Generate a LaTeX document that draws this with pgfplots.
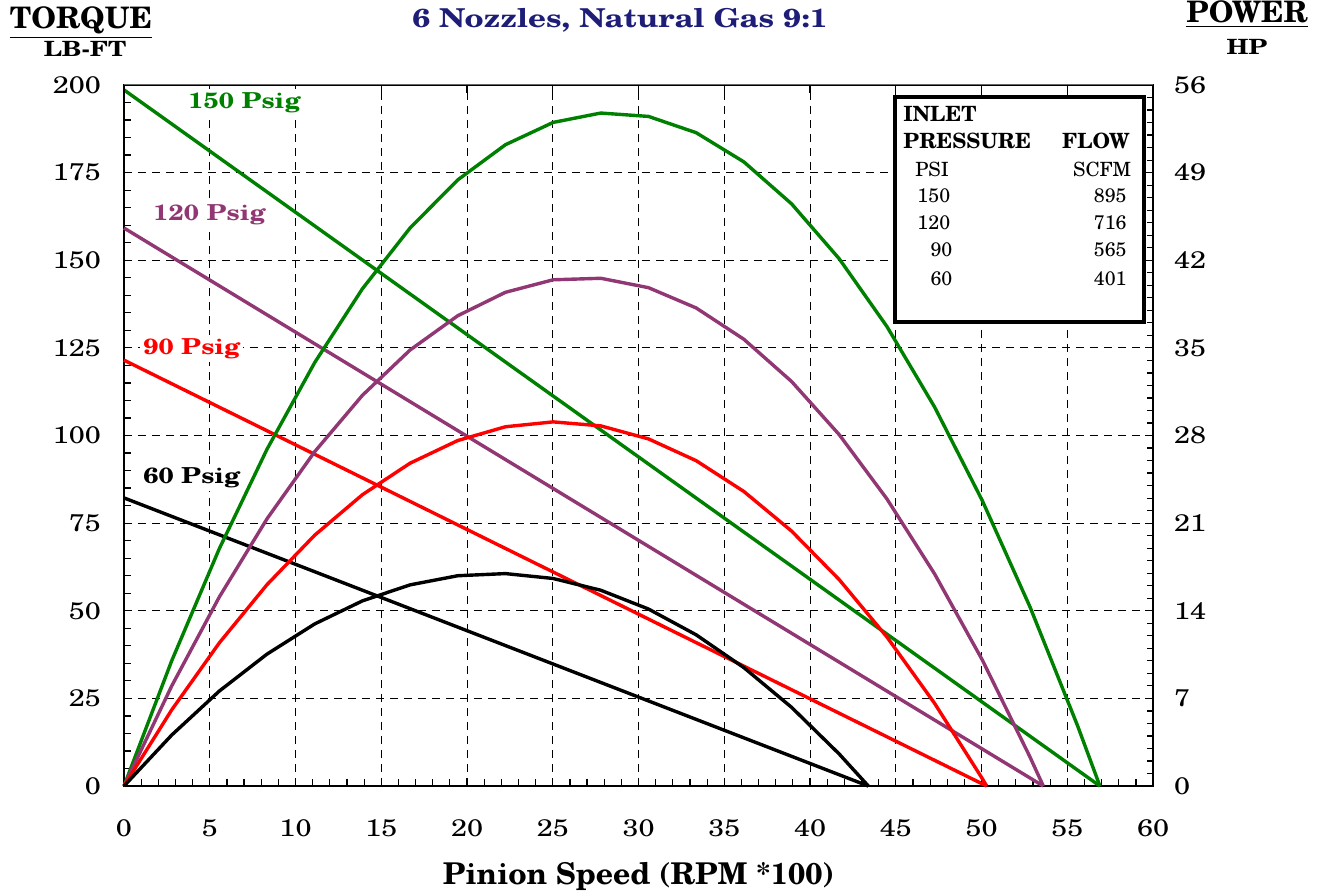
\documentclass[border=0pt]{standalone}
\usepackage{fontspec}
\setmainfont{texgyreschola}[Extension=.otf, UprightFont=*-regular, BoldFont=*-bold, ItalicFont=*-italic, BoldItalicFont=*-bolditalic]
\newfontfamily\wide{texgyreschola}[Extension=.otf, UprightFont=*-regular, BoldFont=*-bold, ItalicFont=*-italic, BoldItalicFont=*-bolditalic, FakeStretch=1.2]
\usepackage{pgfplots}
\pgfplotsset{compat=1.18}
\definecolor{cgreen}{RGB}{0,128,0}
\definecolor{cpurple}{RGB}{145,55,115}
\definecolor{cred}{RGB}{255,0,0}
\definecolor{navy}{RGB}{30,30,120}
\pgfplotstableread{
x p150
0 0
2.78 10.00
5.56 18.97
8.34 26.91
11.12 33.83
13.9 39.72
16.68 44.58
19.46 48.42
22.24 51.23
25.02 53.01
27.8 53.76
30.58 53.49
33.36 52.19
36.14 49.86
38.92 46.51
41.7 42.12
44.48 36.71
47.26 30.28
50.04 22.81
52.82 14.32
55.6 4.81
56.9 0
}\pfifty
\pgfplotstableread{
x p120
0 0
2.78 7.99
5.56 15.11
8.34 21.35
11.12 26.71
13.9 31.21
16.68 34.83
19.46 37.57
22.24 39.44
25.02 40.44
27.8 40.56
30.58 39.81
33.36 38.19
36.14 35.69
38.92 32.32
41.7 28.07
44.48 22.94
47.26 16.95
50.04 10.08
52.82 2.33
53.6 0
}\ptwenty
\pgfplotstableread{
x p90
0 0
2.78 6.08
5.56 11.44
8.34 16.09
11.12 20.04
13.9 23.27
16.68 25.79
19.46 27.60
22.24 28.70
25.02 29.09
27.8 28.77
30.58 27.73
33.36 25.99
36.14 23.53
38.92 20.37
41.7 16.49
44.48 11.91
47.26 6.61
50.04 0.60
50.3 0
}\pninety
\pgfplotstableread{
x p60
0 0
2.78 4.07
5.56 7.59
8.34 10.54
11.12 12.95
13.9 14.79
16.68 16.07
19.46 16.80
22.24 16.97
25.02 16.58
27.8 15.64
30.58 14.14
33.36 12.08
36.14 9.46
38.92 6.29
41.7 2.56
43.4 0
}\psixty
\begin{document}
\begin{tikzpicture}
\begin{axis}[name=main, scale only axis, width=514.5pt, height=350.5pt,
  xmin=0, xmax=60, ymin=0, ymax=200,
  xtick={0,5,...,60}, ytick={0,25,...,200},
  minor x tick num=4, minor y tick num=4,
  xtick pos=bottom, ytick pos=left, tick align=inside,
  major tick length=4pt, minor tick length=3.5pt,
  grid=major, major grid style={black, dash pattern=on 4pt off 3pt, line width=0.5pt},
  axis line style={line width=0.9pt, black},
  every tick/.style={black, line width=0.6pt},
  tick label style={font=\wide\fontsize{12}{14}\selectfont, /pgf/number format/assume math mode=true},
  xticklabel style={yshift=-13pt},
  yticklabel style={xshift=-8pt},
  xlabel={\bfseries Pinion Speed (RPM *100)},
  xlabel style={at={(axis description cs:0.5,0)}, anchor=center, yshift=-45pt, font=\fontsize{15}{17}\selectfont},
  clip=false]
\addplot[cgreen, line width=1.7pt] coordinates {(0,198.6) (56.9,0)};
\addplot[cpurple, line width=1.7pt] coordinates {(0,159.2) (53.6,0)};
\addplot[cred, line width=1.7pt] coordinates {(0,121.5) (50.3,0)};
\addplot[black, line width=1.7pt] coordinates {(0,82.2) (43.4,0)};
\coordinate (bbll) at (axis cs:-7.23,-30.81);
\coordinate (bbur) at (axis cs:69.85,224.25);
\end{axis}
\begin{axis}[scale only axis, width=514.5pt, height=350.5pt,
  xmin=0, xmax=60, ymin=0, ymax=56,
  axis x line*=top, axis y line*=right,
  xtick={0,5,...,60}, xticklabels={},
  ytick={0,7,...,56}, minor y tick num=6, tick align=inside,
  major tick length=4pt, minor tick length=3pt,
  axis line style={line width=0.9pt, black},
  x axis line style={line width=0.5pt, black!60},
  every tick/.style={black, line width=0.6pt},
  tick label style={font=\wide\fontsize{12}{14}\selectfont, /pgf/number format/assume math mode=true},
  yticklabel style={anchor=west, xshift=7pt},
  clip=false]
\addplot[cgreen, line width=1.7pt] table[x=x, y=p150] {\pfifty};
\addplot[cpurple, line width=1.7pt] table[x=x, y=p120] {\ptwenty};
\addplot[cred, line width=1.7pt] table[x=x, y=p90] {\pninety};
\addplot[black, line width=1.7pt] table[x=x, y=p60] {\psixty};
% series labels (torque scale Y * 0.28)
\node[anchor=base west, fill=white, inner sep=1.5pt, text=cgreen, font=\wide\fontsize{11}{12}\selectfont\bfseries] at (axis cs:3.56,54.15) {150 Psig};
\node[anchor=base west, fill=white, inner sep=1.5pt, text=cpurple, font=\wide\fontsize{11}{12}\selectfont\bfseries] at (axis cs:1.52,45.14) {120 Psig};
\node[anchor=base west, fill=white, inner sep=1.5pt, text=cred, font=\wide\fontsize{11}{12}\selectfont\bfseries] at (axis cs:0.93,34.5) {90 Psig};
\node[anchor=base west, fill=white, inner sep=1.5pt, text=black, font=\wide\fontsize{11}{12}\selectfont\bfseries] at (axis cs:0.93,24.19) {60 Psig};
% titles
\node[anchor=base, text=navy, font=\wide\fontsize{13}{15}\selectfont\bfseries] at (axis cs:28.92,60.62) {6 Nozzles, Natural Gas 9:1};
\node[anchor=base, font=\fontsize{14.8}{16}\selectfont\bfseries] at (axis cs:-2.51,60.48) {\underline{TORQUE}};
\node[anchor=base, font=\wide\fontsize{10.5}{12}\selectfont\bfseries] at (axis cs:-2.27,58.24) {LB-FT};
\node[anchor=base, font=\fontsize{14.8}{16}\selectfont\bfseries] at (axis cs:65.48,60.96) {\underline{POWER}};
\node[anchor=base, font=\wide\fontsize{10.5}{12}\selectfont\bfseries] at (axis cs:65.48,58.41) {HP};
% legend box
\draw[line width=2pt, fill=white] (axis cs:44.96,37.07) rectangle (axis cs:59.5,55.05);
\begin{scope}[every node/.style={inner sep=0pt}]
\node[anchor=base west, font=\fontsize{10.5}{12}\selectfont\bfseries] at (axis cs:45.42,53.12) {INLET};
\node[anchor=base west, font=\fontsize{10.5}{12}\selectfont\bfseries] at (axis cs:45.42,50.96) {PRESSURE};
\node[anchor=base east, font=\fontsize{10.5}{12}\selectfont\bfseries] at (axis cs:58.66,50.96) {FLOW};
\node[anchor=base west, font=\fontsize{9.8}{12}\selectfont] at (axis cs:46.12,48.72) {PSI};
\node[anchor=base east, font=\fontsize{9.8}{12}\selectfont] at (axis cs:58.75,48.72) {SCFM};
\node[anchor=base west, font=\fontsize{9.8}{12}\selectfont] at (axis cs:46.24,46.65) {150};
\node[anchor=base east, font=\fontsize{9.8}{12}\selectfont] at (axis cs:58.48,46.65) {895};
\node[anchor=base west, font=\fontsize{9.8}{12}\selectfont] at (axis cs:46.24,44.49) {120};
\node[anchor=base east, font=\fontsize{9.8}{12}\selectfont] at (axis cs:58.48,44.49) {716};
\node[anchor=base west, font=\fontsize{9.8}{12}\selectfont] at (axis cs:47.0,42.31) {90};
\node[anchor=base east, font=\fontsize{9.8}{12}\selectfont] at (axis cs:58.48,42.31) {565};
\node[anchor=base west, font=\fontsize{9.8}{12}\selectfont] at (axis cs:47.0,40.01) {60};
\node[anchor=base east, font=\fontsize{9.8}{12}\selectfont] at (axis cs:58.48,40.01) {401};
\end{scope}
\end{axis}
\pgfresetboundingbox
\path[use as bounding box] (bbll) rectangle (bbur);
\end{tikzpicture}
\end{document}
